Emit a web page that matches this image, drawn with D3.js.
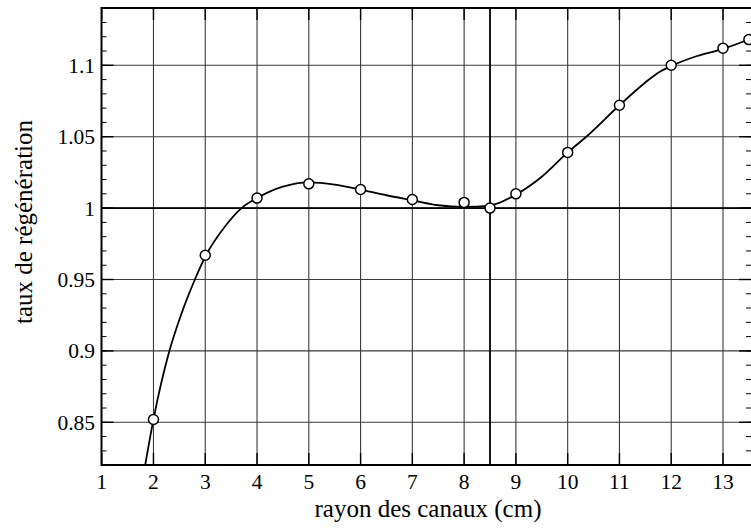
<!DOCTYPE html>
<html><head><meta charset="utf-8">
<script src="https://cdn.jsdelivr.net/npm/d3@7"></script>
<style>body{margin:0;background:#fff}svg{display:block}</style>
</head><body><svg id="c" width="751" height="531"></svg>
<script>
// Measured points
const pointX = [2, 3, 4, 5, 6, 7, 8, 8.5, 9, 10, 11, 12, 13, 13.5];
const pointY = [0.852, 0.967, 1.007, 1.017, 1.013, 1.006, 1.004, 1.000, 1.010, 1.039, 1.072, 1.100, 1.112, 1.118];
// Fitted smooth curve
const curveX = [1.84, 2, 2.3, 2.55, 2.8, 3, 3.4, 3.7, 4, 4.5, 5, 5.5, 6, 6.5, 7, 7.5, 8, 8.5, 9, 9.5, 10, 10.36, 11, 11.5, 11.78, 12, 12.5, 13, 13.6];
const curveY = [0.82, 0.852, 0.899, 0.927, 0.95, 0.966, 0.988, 1.0, 1.007, 1.015, 1.018, 1.0165, 1.013, 1.009, 1.0055, 1.002, 1.0008, 1.0018, 1.0095, 1.022, 1.039, 1.05, 1.072, 1.088, 1.0955, 1.0995, 1.1065, 1.1115, 1.1195];
const xTicks = [1, 2, 3, 4, 5, 6, 7, 8, 9, 10, 11, 12, 13];
const yTicks = [0.85, 0.9, 0.95, 1, 1.05, 1.1];
const yTickLabels = ["0.85", "0.9", "0.95", "1", "1.05", "1.1"];
const yMinor = d3.range(82, 115).map(d => d / 100);
const refX = 8.5, refY = 1;

const FONT = "Liberation Serif";
const svg = d3.select("#c");
const L = 101.5, T = 8, B = 465, R = 751;
const x = d3.scaleLinear().domain([1, 13]).range([101.7, 723]);
const y = d3.scaleLinear().domain([0.85, 1.1]).range([422.3, 65.3]);

const g = svg.append("g");
// grid
g.selectAll(".vg").data(xTicks.slice(1)).enter().append("line")
  .attr("x1", d => x(d)).attr("x2", d => x(d)).attr("y1", T).attr("y2", B)
  .attr("stroke", "#3a3a3a").attr("stroke-width", 1.1);
g.selectAll(".hg").data(yTicks).enter().append("line")
  .attr("x1", L).attr("x2", R).attr("y1", d => y(d)).attr("y2", d => y(d))
  .attr("stroke", "#3a3a3a").attr("stroke-width", 1.1);
// reference lines
g.append("line").attr("x1", L).attr("x2", R).attr("y1", y(refY)).attr("y2", y(refY)).attr("stroke", "#000").attr("stroke-width", 1.8);
g.append("line").attr("x1", x(refX)).attr("x2", x(refX)).attr("y1", T).attr("y2", B).attr("stroke", "#000").attr("stroke-width", 1.8);

// minor y ticks left and right
g.selectAll(".ml").data(yMinor).enter().append("line")
  .attr("x1", L).attr("x2", L + 5).attr("y1", d => y(d)).attr("y2", d => y(d)).attr("stroke", "#000").attr("stroke-width", 1);
g.selectAll(".mr").data(yMinor).enter().append("line")
  .attr("x1", R - 5).attr("x2", R).attr("y1", d => y(d)).attr("y2", d => y(d)).attr("stroke", "#000").attr("stroke-width", 1);
// major ticks
g.selectAll(".Ml").data(yTicks).enter().append("line")
  .attr("x1", L).attr("x2", L + 12).attr("y1", d => y(d)).attr("y2", d => y(d)).attr("stroke", "#000").attr("stroke-width", 1.4);
g.selectAll(".Mr").data(yTicks).enter().append("line")
  .attr("x1", R - 12).attr("x2", R).attr("y1", d => y(d)).attr("y2", d => y(d)).attr("stroke", "#000").attr("stroke-width", 1.4);
g.selectAll(".Mb").data(xTicks).enter().append("line")
  .attr("x1", d => x(d)).attr("x2", d => x(d)).attr("y1", B - 12).attr("y2", B).attr("stroke", "#000").attr("stroke-width", 1.4);
g.selectAll(".Mt").data(xTicks).enter().append("line")
  .attr("x1", d => x(d)).attr("x2", d => x(d)).attr("y1", T).attr("y2", T + 12).attr("stroke", "#000").attr("stroke-width", 1.4);

// frame
g.append("path").attr("d", `M${R},${T}H${L}V${B}H${R}`).attr("fill", "none").attr("stroke", "#000").attr("stroke-width", 2);

// curve
svg.append("clipPath").attr("id", "cp").append("rect").attr("x", L).attr("y", T).attr("width", R - L).attr("height", B - T);
const line = d3.line().x(d => x(d[0])).y(d => y(d[1])).curve(d3.curveMonotoneX);
g.append("path").datum(curveX.map((v, i) => [v, curveY[i]])).attr("d", line)
  .attr("fill", "none").attr("stroke", "#000").attr("stroke-width", 1.8).attr("clip-path", "url(#cp)");

// points
g.selectAll(".pt").data(pointX.map((v, i) => [v, pointY[i]])).enter().append("circle")
  .attr("cx", d => x(d[0])).attr("cy", d => y(d[1])).attr("r", 5)
  .attr("fill", "#fff").attr("stroke", "#000").attr("stroke-width", 1.5);

// tick labels
g.selectAll(".xl").data(xTicks).enter().append("text")
  .attr("x", d => x(d)).attr("y", 489).attr("text-anchor", "middle")
  .style("font-family", FONT).style("font-size", "21.5px").text(d => d);
g.selectAll(".yl").data(yTicks).enter().append("text")
  .attr("x", 95).attr("y", d => y(d) + 7.5).attr("text-anchor", "end")
  .style("font-family", FONT).style("font-size", "21.5px").text((d, i) => yTickLabels[i]);

// titles
svg.append("text").attr("x", 428).attr("y", 517).attr("text-anchor", "middle")
  .style("font-family", FONT).style("font-size", "25px").text("rayon des canaux (cm)");
svg.append("text").attr("transform", "translate(32,222) rotate(-90)").attr("text-anchor", "middle")
  .style("font-family", FONT).style("font-size", "25px").text("taux de régénération");
</script></body></html>
